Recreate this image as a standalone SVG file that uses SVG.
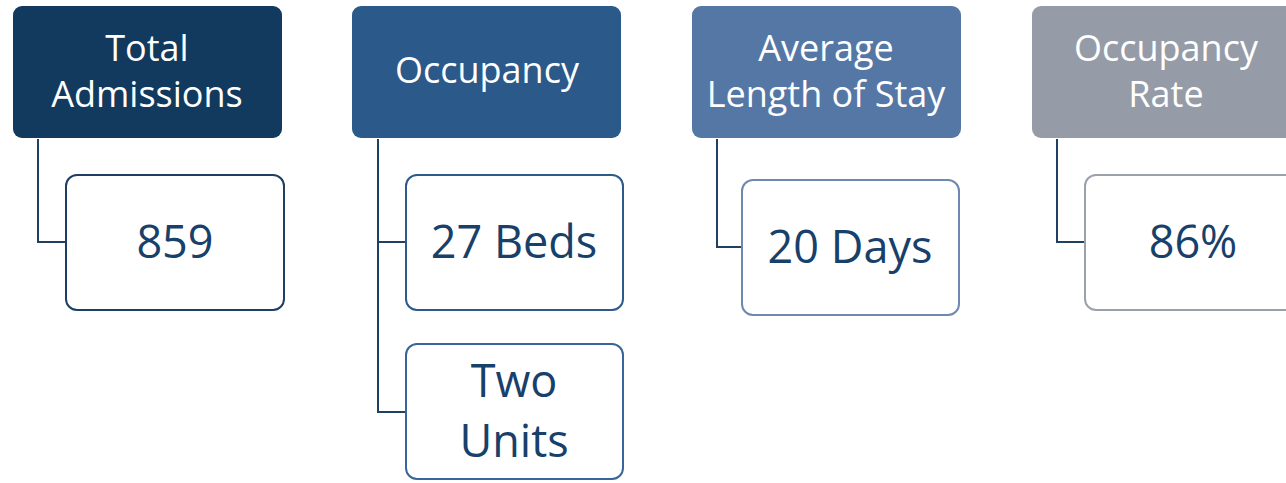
<svg xmlns="http://www.w3.org/2000/svg" width="1286" height="483" viewBox="0 0 1286 483">
<style>
.hdr{font-family:"Open Sans","Liberation Sans",sans-serif;font-size:36px;fill:#ffffff;text-anchor:middle}
.val{font-family:"Open Sans","Liberation Sans",sans-serif;font-size:45px;fill:#17406a;text-anchor:middle}
.box{fill:#ffffff;stroke-width:2}
.conn{fill:none;stroke:#1f3f63;stroke-width:2}
</style>
<rect width="1286" height="483" fill="#ffffff"/>
<g id="connectors">
<path class="conn" d="M38,139 V242 H66"/>
<path class="conn" d="M378,139 V412 H406 M378,242 H406"/>
<path class="conn" d="M717,139 V247 H742"/>
<path class="conn" d="M1057,139 V242 H1085"/>
</g>
<g id="n1">
<rect x="13" y="6" width="269" height="132" rx="9" fill="#113a5e"/>
<text class="hdr" x="147" y="61">Total</text>
<text class="hdr" x="147" y="107">Admissions</text>
</g>
<g id="n1c">
<rect class="box" x="66" y="175" width="218" height="135" rx="11" stroke="#1e3f63"/>
<text class="val" x="175" y="258">859</text>
</g>
<g id="n2">
<rect x="352" y="6" width="269" height="132" rx="9" fill="#2a598a"/>
<text class="hdr" x="487" y="83">Occupancy</text>
</g>
<g id="n2c1">
<rect class="box" x="406" y="175" width="217" height="135" rx="11" stroke="#2d5a8a"/>
<text class="val" x="514" y="258">27 Beds</text>
</g>
<g id="n2c2">
<rect class="box" x="406" y="344" width="217" height="135" rx="11" stroke="#3a659a"/>
<text class="val" x="514" y="397">Two</text>
<text class="val" x="514" y="457">Units</text>
</g>
<g id="n3">
<rect x="692" y="6" width="269" height="132" rx="9" fill="#5577a6"/>
<text class="hdr" x="826" y="61">Average</text>
<text class="hdr" x="826" y="107">Length of Stay</text>
</g>
<g id="n3c">
<rect class="box" x="742" y="180" width="217" height="135" rx="11" stroke="#6d89b2"/>
<text class="val" x="850" y="263">20 Days</text>
</g>
<g id="n4">
<rect x="1032" y="6" width="269" height="132" rx="9" fill="#959ca8"/>
<text class="hdr" x="1166" y="61">Occupancy</text>
<text class="hdr" x="1166" y="107">Rate</text>
</g>
<g id="n4c">
<rect class="box" x="1085" y="175" width="217" height="135" rx="11" stroke="#9aa1ad"/>
<text class="val" x="1193" y="258">86%</text>
</g>
</svg>
